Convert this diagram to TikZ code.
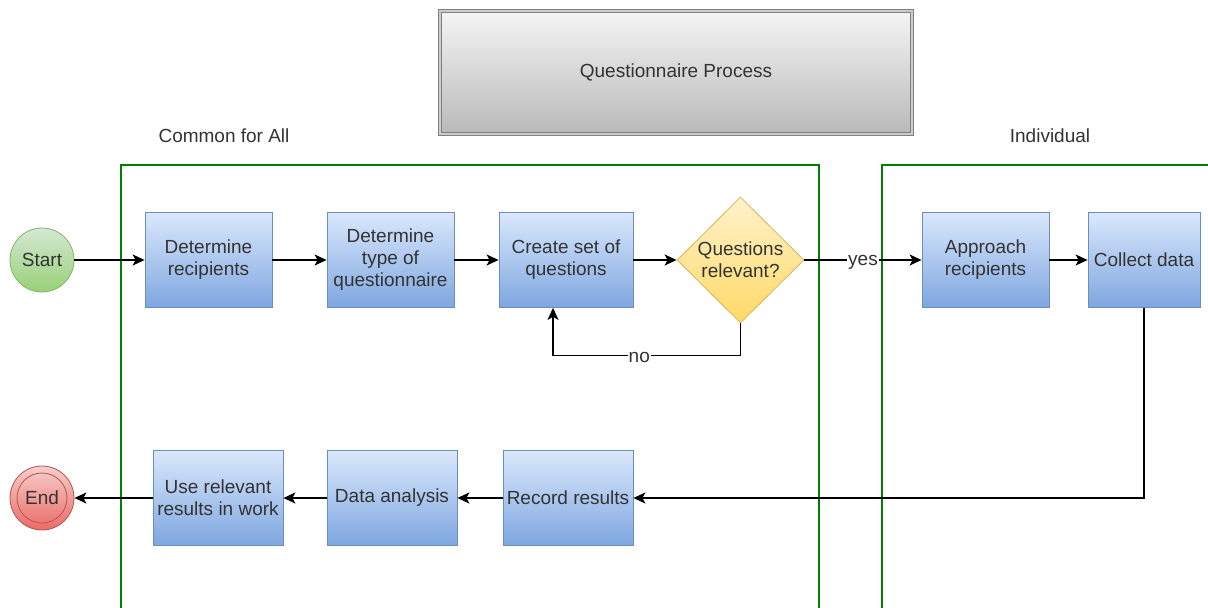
\documentclass[tikz,border=0pt]{standalone}
\usepackage{fontspec}
\setmainfont{Liberation Sans}
\usetikzlibrary{shapes.geometric, arrows.meta}

\definecolor{txtgray}{HTML}{333333}
\definecolor{boxtop}{HTML}{DAE8FC}
\definecolor{boxbot}{HTML}{7EA6E0}
\definecolor{boxline}{HTML}{6C8EBF}
\definecolor{dectop}{HTML}{FFF2CC}
\definecolor{decbot}{HTML}{FFD966}
\definecolor{decline}{HTML}{D6B656}
\definecolor{gotop}{HTML}{D5E8D4}
\definecolor{gobot}{HTML}{97D077}
\definecolor{goline}{HTML}{82B366}
\definecolor{stoptop}{HTML}{F8CECC}
\definecolor{stopbot}{HTML}{EA6B66}
\definecolor{stopline}{HTML}{B85450}
\definecolor{lanegreen}{HTML}{007F00}

\begin{document}
\begin{tikzpicture}[x=1pt, y=-1pt,
	every node/.style={font=\fontsize{19}{22}\selectfont, text=txtgray},
	stepbox/.style={draw=boxline, line width=0.8pt, top color=boxtop, bottom color=boxbot,
		minimum width=127pt, minimum height=95pt, inner sep=1pt, align=center},
	decision/.style={diamond, aspect=1, draw=decline, line width=0.8pt, top color=dectop,
		bottom color=decbot, minimum width=127pt, minimum height=126pt, inner sep=0pt, align=center},
	terminal/.style={circle, line width=0.8pt, minimum size=64pt, inner sep=0pt},
	titlebox/.style={draw=gray, line width=1pt, double=gray!40, double distance=2pt,
		top color=gray!8, bottom color=gray!55, minimum width=472pt, minimum height=123pt},
	lane/.style={draw=lanegreen, line width=1.2pt},
	flow/.style={draw=black, line width=1.4pt, -{Stealth[length=12pt, width=11pt, inset=3pt]}},
	edgelabel/.style={fill=white, inner sep=1pt}]

	\useasboundingbox (0,0) rectangle (1208,608);

	\node[titlebox] (title) at (676,72.5) {Questionnaire Process};

	\node (common) at (224,136) {Common for All};
	\node (indiv) at (1050,136) {Individual};

	\draw[lane] (121,608) -- (121,165) -- (819,165) -- (819,608);
	\draw[lane] (882,608) -- (882,165) -- (1208,165);

	\node[terminal, draw=goline, top color=gotop, bottom color=gobot] (start) at (42,260) {Start};
	\node[stepbox] (recip) at (208.5,260) {Determine\\recipients};
	\node[stepbox] (qtype) at (390.5,260) {Determine\\type of\\questionnaire};
	\node[stepbox, minimum width=134pt] (qset) at (566,260) {Create set of\\questions};
	\node[decision] (relev) at (740.5,260) {Questions\\relevant?};
	\node[stepbox] (approach) at (985.5,260) {Approach\\recipients};
	\node[stepbox, minimum width=112pt] (collect) at (1144,260) {Collect data};

	\node[stepbox, minimum width=130pt] (record) at (568,498) {Record results};
	\node[stepbox, minimum width=130pt] (analysis) at (392,498) {Data analysis};
	\node[stepbox, minimum width=130pt] (use) at (218,498) {Use relevant\\results in work};
	\node[terminal, draw=stopline, top color=stoptop, bottom color=stopbot] (end) at (42,498) {End};
	\draw[stopline, line width=0.8pt] (end.center) circle (25pt);

	\draw[flow] (start) -- (recip);
	\draw[flow] (recip) -- (qtype);
	\draw[flow] (qtype) -- (qset);
	\draw[flow] (qset) -- (relev);
	\draw[flow] (relev.south) -- ++(0,32) -| ([xshift=-13pt]qset.south)
		node[edgelabel, pos=0.27, yshift=-2pt] {no};
	\draw[flow] (relev) -- node[edgelabel, yshift=-2pt] {yes} (approach);
	\draw[flow] (approach) -- (collect);
	\draw[flow] (collect.south) |- (record.east);
	\draw[flow] (record) -- (analysis);
	\draw[flow] (analysis) -- (use);
	\draw[flow] (use) -- (end);
\end{tikzpicture}
\end{document}
